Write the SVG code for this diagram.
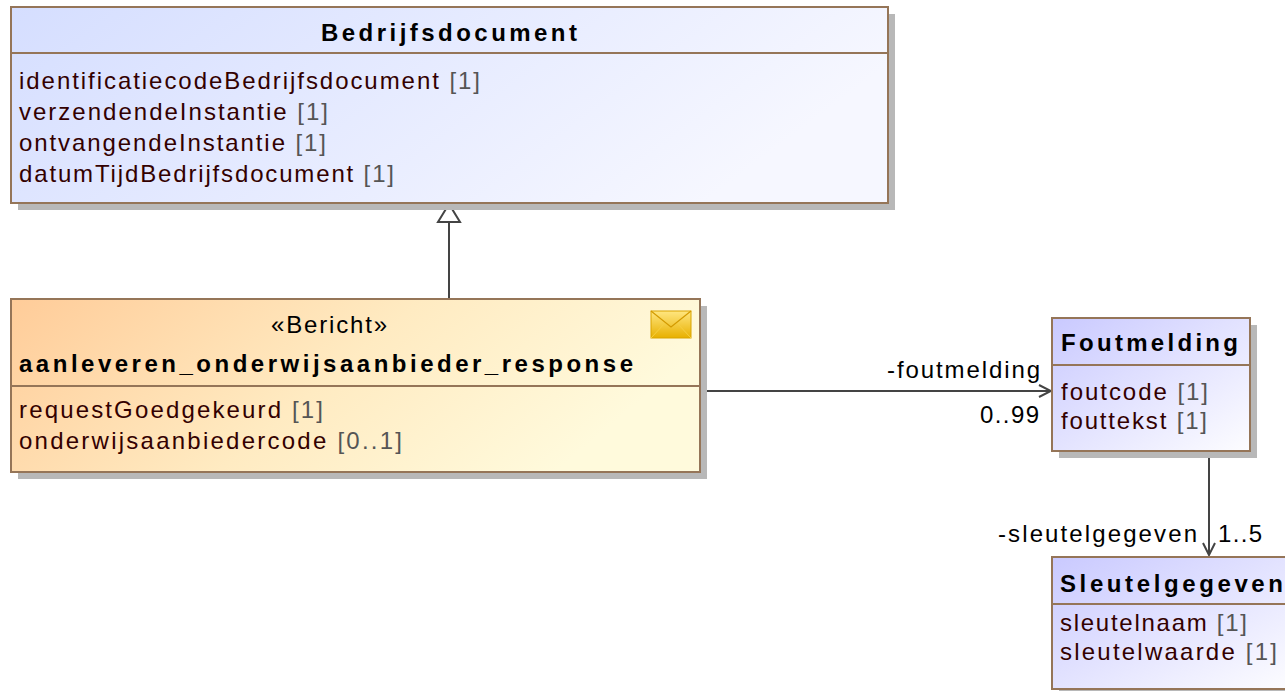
<svg xmlns="http://www.w3.org/2000/svg" width="1285" height="691" viewBox="0 0 1285 691">
<defs>
  <linearGradient id="gBlue" x1="0" y1="0" x2="1" y2="0.3">
    <stop offset="0" stop-color="#D5DEFF"/>
    <stop offset="1" stop-color="#F6F7FF"/>
  </linearGradient>
  <linearGradient id="gOrange" x1="0" y1="0" x2="1" y2="0.3">
    <stop offset="0" stop-color="#FFCC99"/>
    <stop offset="0.55" stop-color="#FFEBC2"/>
    <stop offset="1" stop-color="#FFFADC"/>
  </linearGradient>
  <linearGradient id="gLav" x1="0" y1="0" x2="1" y2="1">
    <stop offset="0" stop-color="#C9C9FF"/>
    <stop offset="1" stop-color="#FDFDFF"/>
  </linearGradient>
  <linearGradient id="gEnv" x1="0" y1="0" x2="0" y2="1">
    <stop offset="0" stop-color="#FFE680"/>
    <stop offset="1" stop-color="#E8B000"/>
  </linearGradient>
  <marker id="open" viewBox="0 0 14 14" refX="13" refY="7" markerWidth="14" markerHeight="14" markerUnits="userSpaceOnUse" orient="auto">
    <path d="M1,1 L13,7 L1,13" fill="none" stroke="#444" stroke-width="2"/>
  </marker>
</defs>
<style>
  .shadow { fill: #B8B8B8; }
  .box { stroke: #957558; stroke-width: 2; }
  .sep { stroke: #957558; stroke-width: 2; }
  text { font-family: "Liberation Sans", Arial, sans-serif; font-size: 24px; }
  .title { font-weight: bold; fill: #000; font-size: 24px; }
  .attr { fill: #330000; }
  .mult { fill: #555555; }
  .lbl { fill: #000; }
  .conn { stroke: #444; stroke-width: 2; fill: none; }
</style>

<g id="connectors">
  <line class="conn" x1="449" y1="299" x2="449" y2="222"/>
  <polygon points="449,204 438,222 460,222" fill="#fff" stroke="#444" stroke-width="2"/>
  <line class="conn" x1="700" y1="391" x2="1051" y2="391" marker-end="url(#open)"/>
  <text class="lbl" x="887" y="378" textLength="153" lengthAdjust="spacing">-foutmelding</text>
  <text class="lbl" x="980" y="423" textLength="59" lengthAdjust="spacing">0..99</text>
  <line class="conn" x1="1209" y1="452" x2="1209" y2="555" marker-end="url(#open)"/>
  <text class="lbl" x="998" y="542" textLength="199" lengthAdjust="spacing">-sleutelgegeven</text>
  <text class="lbl" x="1218" y="542" textLength="44" lengthAdjust="spacing">1..5</text>
</g>

<g id="Bedrijfsdocument">
  <rect class="shadow" x="18" y="14" width="877" height="196"/>
  <rect class="box" x="11" y="7" width="877" height="196" fill="url(#gBlue)"/>
  <line class="sep" x1="11" y1="53" x2="888" y2="53"/>
  <text class="title" x="321" y="41" textLength="256" lengthAdjust="spacing">Bedrijfsdocument</text>
  <text x="19" y="89" textLength="461" lengthAdjust="spacing"><tspan class="attr">identificatiecodeBedrijfsdocument </tspan><tspan class="mult">[1]</tspan></text>
  <text x="19" y="120" textLength="309" lengthAdjust="spacing"><tspan class="attr">verzendendeInstantie </tspan><tspan class="mult">[1]</tspan></text>
  <text x="19" y="151" textLength="307" lengthAdjust="spacing"><tspan class="attr">ontvangendeInstantie </tspan><tspan class="mult">[1]</tspan></text>
  <text x="19" y="182" textLength="375" lengthAdjust="spacing"><tspan class="attr">datumTijdBedrijfsdocument </tspan><tspan class="mult">[1]</tspan></text>
</g>

<g id="aanleveren_onderwijsaanbieder_response">
  <rect class="shadow" x="18" y="306" width="689" height="173"/>
  <rect class="box" x="11" y="299" width="689" height="173" fill="url(#gOrange)"/>
  <line class="sep" x1="11" y1="386" x2="700" y2="386"/>
  <g id="envelope">
    <rect x="651" y="311" width="40" height="27" fill="url(#gEnv)" stroke="#D9A400" stroke-width="1"/>
    <path d="M651,311 L671,327 L691,311" fill="none" stroke="#D39A00" stroke-width="1.2"/>
    <path d="M651,338 L665,323 M691,338 L677,323" fill="none" stroke="#F5CF40" stroke-width="1"/>
  </g>
  <text class="lbl" x="271" y="333" textLength="116" lengthAdjust="spacing">«Bericht»</text>
  <text class="title" x="19" y="372" textLength="614" lengthAdjust="spacing">aanleveren_onderwijsaanbieder_response</text>
  <text x="19" y="418" textLength="304" lengthAdjust="spacing"><tspan class="attr">requestGoedgekeurd </tspan><tspan class="mult">[1]</tspan></text>
  <text x="19" y="449" textLength="383" lengthAdjust="spacing"><tspan class="attr">onderwijsaanbiedercode </tspan><tspan class="mult">[0..1]</tspan></text>
</g>

<g id="Foutmelding">
  <rect class="shadow" x="1059" y="325" width="198" height="133"/>
  <rect class="box" x="1052" y="318" width="198" height="133" fill="url(#gLav)"/>
  <line class="sep" x1="1052" y1="365" x2="1250" y2="365"/>
  <text class="title" x="1061" y="351" textLength="177" lengthAdjust="spacing">Foutmelding</text>
  <text x="1061" y="400" textLength="147" lengthAdjust="spacing"><tspan class="attr">foutcode </tspan><tspan class="mult">[1]</tspan></text>
  <text x="1061" y="429" textLength="146" lengthAdjust="spacing"><tspan class="attr">fouttekst </tspan><tspan class="mult">[1]</tspan></text>
</g>

<g id="Sleutelgegeven">
  <rect class="shadow" x="1059" y="564" width="240" height="132"/>
  <rect class="box" x="1052" y="557" width="240" height="132" fill="url(#gLav)"/>
  <line class="sep" x1="1052" y1="604" x2="1292" y2="604"/>
  <text class="title" x="1060" y="592" textLength="223" lengthAdjust="spacing">Sleutelgegeven</text>
  <text x="1060" y="631" textLength="187" lengthAdjust="spacing"><tspan class="attr">sleutelnaam </tspan><tspan class="mult">[1]</tspan></text>
  <text x="1060" y="660" textLength="217" lengthAdjust="spacing"><tspan class="attr">sleutelwaarde </tspan><tspan class="mult">[1]</tspan></text>
</g>
</svg>
